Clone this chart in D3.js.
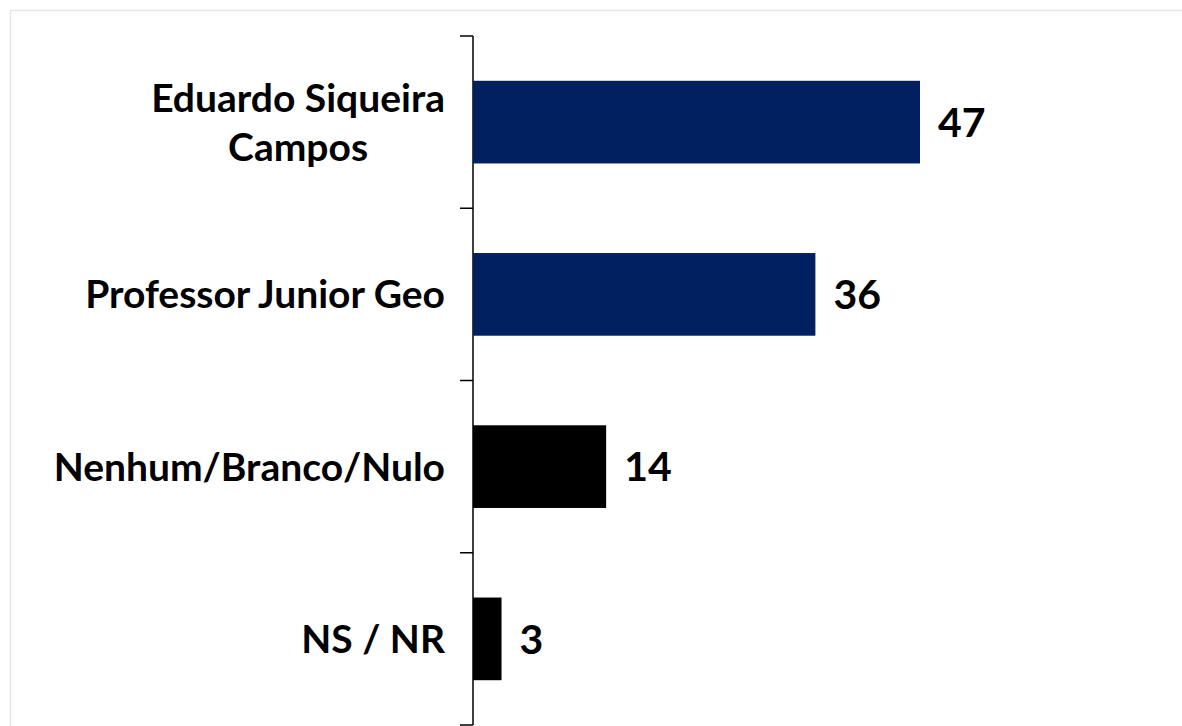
<!DOCTYPE html>
<html>
<head>
<meta charset="utf-8">
<script src="https://cdn.jsdelivr.net/npm/d3@7"></script>
<style>
  body { margin: 0; background: #fff; }
  svg { display: block; }
  text { font-family: Lato, "Open Sans", sans-serif; font-weight: bold; fill: #000; }
</style>
</head>
<body>
<svg id="chart" width="1182" height="726"></svg>
<script>
// chart data
var categories = ["Eduardo Siqueira Campos", "Professor Junior Geo", "Nenhum/Branco/Nulo", "NS / NR"];
var labelLines = [["Eduardo Siqueira", "Campos"], ["Professor Junior Geo"], ["Nenhum/Branco/Nulo"], ["NS / NR"]];
var values     = [47, 36, 14, 3];
var barColors  = ["#002060", "#002060", "#000000", "#000000"];

var svg = d3.select("#chart");

// light frame round the plot area
svg.append("rect")
    .attr("x", 10.5).attr("y", 10.5)
    .attr("width", 1200).attr("height", 740)
    .attr("fill", "none")
    .attr("stroke", "#e6e6e6")
    .attr("stroke-width", 1.5);

var x = d3.scaleLinear().domain([0, 47]).range([473, 920]);
var y = d3.scaleBand().domain(categories).range([36, 725]).paddingInner(0.52).paddingOuter(0.26);

// category axis, ticks between the bands
var axisG = svg.append("g").attr("transform", "translate(473,0)");
axisG.append("line")
    .attr("x1", 0).attr("x2", 0)
    .attr("y1", 36).attr("y2", 725)
    .attr("stroke", "#000").attr("stroke-width", 1.5);
var step = (725 - 36) / categories.length;
axisG.selectAll("line.tick")
    .data(d3.range(categories.length + 1))
    .enter().append("line")
    .attr("class", "tick")
    .attr("x1", -13).attr("x2", 0)
    .attr("y1", function(d) { return 36 + d * step; })
    .attr("y2", function(d) { return 36 + d * step; })
    .attr("stroke", "#000").attr("stroke-width", 1.5);

svg.selectAll("rect.bar")
    .data(categories)
    .enter().append("rect")
    .attr("class", "bar")
    .attr("x", x(0))
    .attr("y", function(d) { return y(d); })
    .attr("width", function(d, i) { return x(values[i]) - x(0); })
    .attr("height", y.bandwidth())
    .attr("fill", function(d, i) { return barColors[i]; });

// category labels: block right aligned, lines centred inside the block
var lineH = 49;
svg.selectAll("text.cat")
    .data(categories)
    .enter().append("text")
    .attr("class", "cat")
    .attr("text-anchor", "middle")
    .attr("font-size", 39)
    .each(function(d, i) {
        var lines = labelLines[i];
        var cy = y(d) + y.bandwidth() / 2;
        var first = cy - (lines.length - 1) * lineH / 2;
        var t = d3.select(this);
        var spans = lines.map(function(l, j) {
            return t.append("tspan")
                .attr("y", first + j * lineH)
                .attr("dy", "0.36em")
                .text(l);
        });
        var maxW = d3.max(spans, function(s) { return s.node().getComputedTextLength(); });
        spans.forEach(function(s) { s.attr("x", 445 - maxW / 2); });
    });

// value labels
svg.selectAll("text.val")
    .data(categories)
    .enter().append("text")
    .attr("class", "val")
    .attr("font-size", 41)
    .attr("x", function(d, i) { return x(values[i]) + 18; })
    .attr("y", function(d) { return y(d) + y.bandwidth() / 2; })
    .attr("dy", "0.36em")
    .text(function(d, i) { return values[i]; });
</script>
</body>
</html>
